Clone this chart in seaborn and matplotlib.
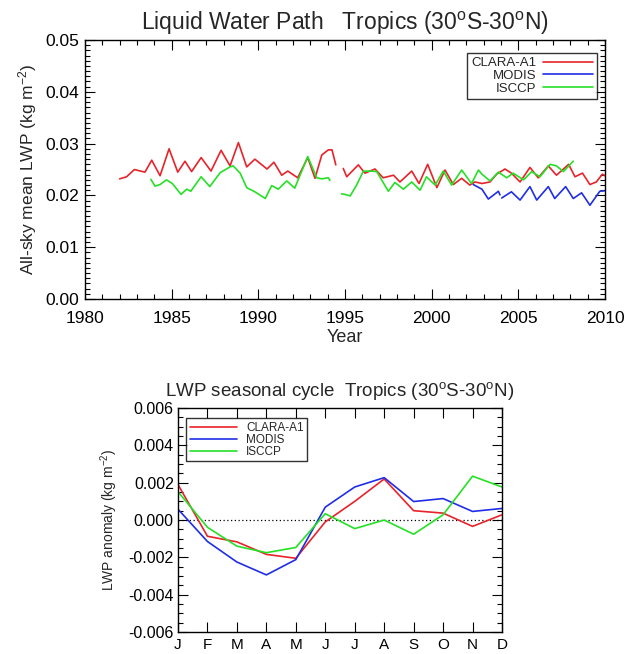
import numpy as np
import pandas as pd
import matplotlib
matplotlib.use("Agg")
import matplotlib.pyplot as plt
from matplotlib.ticker import MultipleLocator
import seaborn as sns

sns.set_theme(style="white")
plt.rcParams['font.family'] = ['Liberation Sans', 'DejaVu Sans']
plt.rcParams['mathtext.fontset'] = 'custom'
plt.rcParams['mathtext.rm'] = 'Liberation Sans'
plt.rcParams['mathtext.it'] = 'Liberation Sans'

# ---------------- time series data (NaN = data gap) ----------------
clara_years = [1982.0, 1982.4, 1982.85, 1983.2, 1983.46, 1983.85, 1984.33, 1984.85, 1985.35,
               1985.77, 1986.15, 1986.7, 1987.27, 1987.85, 1988.37, 1988.85, 1989.33, 1989.8,
               1990.5, 1990.9, 1991.35, 1991.7, 1992.27, 1992.85, 1993.27, 1993.66, 1994.04,
               1994.25, 1994.47, 1994.7,
               1994.9, 1995.1, 1995.3, 1995.77, 1996.15, 1996.73, 1997.2, 1997.8, 1998.17,
               1998.85, 1999.27, 1999.77, 2000.3, 2000.77, 2001.25, 2001.73, 2002.2, 2002.5,
               2002.9, 2003.37, 2003.75, 2004.23, 2004.6, 2005.1, 2005.67, 2006.15, 2006.73,
               2007.2, 2007.9, 2008.27, 2008.7, 2009.13, 2009.5, 2009.85, 2010.0]
clara_vals = [0.0232, 0.0236, 0.0250, 0.0247, 0.0245, 0.0268, 0.0238, 0.0290, 0.0245,
              0.0266, 0.0246, 0.0273, 0.0247, 0.0287, 0.0257, 0.0302, 0.0255, 0.0270,
              0.0251, 0.0264, 0.0239, 0.0247, 0.0234, 0.0273, 0.0233, 0.0278, 0.0288,
              0.0288, 0.0259, np.nan,
              0.0252, 0.0236, 0.0243, 0.0259, 0.0243, 0.0251, 0.0234, 0.0239, 0.0226,
              0.0247, 0.0223, 0.0260, 0.0215, 0.0249, 0.0221, 0.0233, 0.0220, 0.0226,
              0.0223, 0.0226, 0.0241, 0.0251, 0.0243, 0.0226, 0.0254, 0.0234, 0.0257,
              0.0239, 0.0260, 0.0236, 0.0243, 0.0221, 0.0226, 0.0241, 0.0238]

modis_years = [2002.4, 2002.9, 2003.27, 2003.85, 2003.94, 2003.99,
               2004.04, 2004.6, 2005.1, 2005.67, 2006.06, 2006.73, 2007.1, 2007.73,
               2008.17, 2008.65, 2009.13, 2009.7, 2010.0]
modis_vals = [0.0221, 0.0212, 0.0193, 0.0208, 0.0201, np.nan,
              0.0195, 0.0207, 0.0191, 0.0217, 0.0191, 0.0217, 0.0194, 0.0217,
              0.0194, 0.0205, 0.0181, 0.0208, 0.0209]

isccp_years = [1983.8, 1984.04, 1984.33, 1984.7, 1985.04, 1985.54, 1985.87, 1986.1, 1986.7,
               1987.2, 1987.8, 1988.37, 1988.55, 1988.95, 1989.33, 1989.8, 1990.4, 1990.77,
               1991.15, 1991.64, 1992.1, 1992.85, 1993.37, 1993.66, 1994.04, 1994.13, 1994.5,
               1994.8, 1995.0, 1995.3, 1995.67, 1996.06, 1996.54, 1996.83, 1997.5, 1997.88,
               1998.37, 1998.85, 1999.33, 1999.7, 2000.2, 2000.67, 2001.15, 2001.73, 2002.3,
               2002.7, 2002.9, 2003.37, 2003.85, 2004.33, 2004.7, 2005.3, 2005.77, 2006.25,
               2006.83, 2007.2, 2007.6, 2008.17]
isccp_vals = [0.0231, 0.0218, 0.0221, 0.0230, 0.0223, 0.0202, 0.0212, 0.0208, 0.0236,
              0.0217, 0.0244, 0.0255, 0.0257, 0.0243, 0.0215, 0.0207, 0.0194, 0.0219,
              0.0212, 0.0228, 0.0214, 0.0275, 0.0234, 0.0232, 0.0234, 0.0229, np.nan,
              0.0203, 0.0202, 0.0199, 0.0220, 0.0247, 0.0247, 0.0246, 0.0208, 0.0225,
              0.0212, 0.0226, 0.0210, 0.0236, 0.0220, 0.0247, 0.0220, 0.0249, 0.0223,
              0.0249, 0.0241, 0.0228, 0.0245, 0.0234, 0.0243, 0.0230, 0.0246, 0.0236,
              0.0260, 0.0257, 0.0246, 0.0266]

# ---------------- seasonal cycle data ----------------
months = ['J', 'F', 'M', 'A', 'M', 'J', 'J', 'A', 'S', 'O', 'N', 'D']
clara_season = [0.0019, -0.00087, -0.00117, -0.00184, -0.00205, -0.0001,
                0.0010, 0.0022, 0.0005, 0.00037, -0.00034, 0.00028]
modis_season = [0.00058, -0.00115, -0.00225, -0.00294, -0.00212, 0.00069,
                0.00177, 0.00227, 0.00099, 0.00115, 0.00046, 0.00062]
isccp_season = [0.00152, -0.00039, -0.0014, -0.00175, -0.00147, 0.00034,
                -0.00046, 0.0, -0.00076, 0.00028, 0.00235, 0.00177]

names = ['CLARA-A1', 'MODIS', 'ISCCP']
colors = {'CLARA-A1': '#e8232a', 'MODIS': '#1f2ee6', 'ISCCP': '#26e026'}


def to_long(name, years, vals):
    rows = []
    seg = 0
    for y, v in zip(years, vals):
        if np.isnan(v):
            seg += 1
            continue
        rows.append((name, f"{name}_{seg}", y, v))
    return rows


rows = (to_long('CLARA-A1', clara_years, clara_vals)
        + to_long('MODIS', modis_years, modis_vals)
        + to_long('ISCCP', isccp_years, isccp_vals))
ts = pd.DataFrame(rows, columns=['dataset', 'segment', 'year', 'lwp'])

season = pd.DataFrame({
    'month': np.tile(np.arange(12), 3),
    'dataset': np.repeat(names, 12),
    'anom': clara_season + modis_season + isccp_season,
})

fig = plt.figure(figsize=(6.25, 6.54), dpi=100)
ax1 = fig.add_axes([0.136, 0.5428, 0.832, 0.396])
ax2 = fig.add_axes([0.2848, 0.0336, 0.5184, 0.3425])

# ---------------- top panel ----------------
sns.lineplot(data=ts, x='year', y='lwp', hue='dataset', units='segment', estimator=None,
             palette=colors, hue_order=names, linewidth=1.2, ax=ax1, legend=False, sort=False)
ax1.set_xlim(1980, 2010)
ax1.set_ylim(0, 0.05)
ax1.xaxis.set_major_locator(MultipleLocator(5))
ax1.xaxis.set_minor_locator(MultipleLocator(1))
ax1.yaxis.set_major_locator(MultipleLocator(0.01))
ax1.yaxis.set_minor_locator(MultipleLocator(0.001))
ax1.set_yticklabels([f"{v:.2f}" for v in ax1.get_yticks()])
ax1.set_xlabel('Year', fontsize=13, labelpad=2)
ax1.set_ylabel('All-sky mean LWP (kg m$^{-2}$)', fontsize=12.5, labelpad=5)
ax1.set_title('Liquid Water Path   Tropics (30$^\\mathrm{o}$S-30$^\\mathrm{o}$N)', fontsize=16.5, pad=7)
h1 = [plt.Line2D([], [], color=colors[n], lw=1.2) for n in names]
leg1 = ax1.legend(h1, names, loc='upper right', bbox_to_anchor=(0.985, 0.95), markerfirst=False,
                  fontsize=9.5, frameon=True, fancybox=False, edgecolor='black',
                  handlelength=3.8, handletextpad=0.5, labelspacing=0.05, borderpad=0.3,
                  borderaxespad=0)
leg1.get_frame().set_linewidth(1.0)

# ---------------- bottom panel ----------------
sns.lineplot(data=season, x='month', y='anom', hue='dataset', palette=colors, hue_order=names,
             linewidth=1.2, ax=ax2, legend=False)
ax2.axhline(0, color='black', lw=0.9, ls=(0, (1, 2)), zorder=0)
ax2.set_xlim(0, 11)
ax2.set_ylim(-0.006, 0.006)
ax2.set_xticks(range(12))
ax2.set_xticklabels(months)
ax2.yaxis.set_major_locator(MultipleLocator(0.002))
ax2.yaxis.set_minor_locator(MultipleLocator(0.0005))
ax2.set_yticklabels([f"{v:.3f}" for v in ax2.get_yticks()])
ax2.set_xlabel('')
ax2.set_ylabel('LWP anomaly (kg m$^{-2}$)', fontsize=10, labelpad=6)
ax2.set_title('LWP seasonal cycle  Tropics (30$^\\mathrm{o}$S-30$^\\mathrm{o}$N)', fontsize=13.5, pad=9)
h2 = [plt.Line2D([], [], color=colors[n], lw=1.2) for n in names]
leg2 = ax2.legend(h2, names, loc='upper left', bbox_to_anchor=(0.025, 0.955), fontsize=8.5,
                  frameon=True, fancybox=False, edgecolor='black', handlelength=4.0,
                  handletextpad=0.8, labelspacing=0.0, borderpad=0.3, borderaxespad=0)
leg2.get_frame().set_linewidth(1.0)

for ax, fs in ((ax1, 12.5), (ax2, 11.5)):
    for s in ax.spines.values():
        s.set_color('black')
        s.set_linewidth(1.0)
        s.set_visible(True)
    ax.tick_params(which='both', direction='in', top=True, right=True, bottom=True, left=True,
                   color='black', labelsize=fs, labelcolor='black')
    ax.tick_params(which='major', length=7, width=0.8)
    ax.tick_params(which='minor', length=3.5, width=0.8)
    ax.set_facecolor('white')

ax1.tick_params(axis='x', which='major', pad=8.5)
ax1.tick_params(axis='y', which='major', pad=4)
ax2.tick_params(axis='x', which='major', pad=4, labelsize=11)
ax2.tick_params(axis='y', which='major', pad=3)

fig.savefig('out.png', dpi=100, facecolor='white')
